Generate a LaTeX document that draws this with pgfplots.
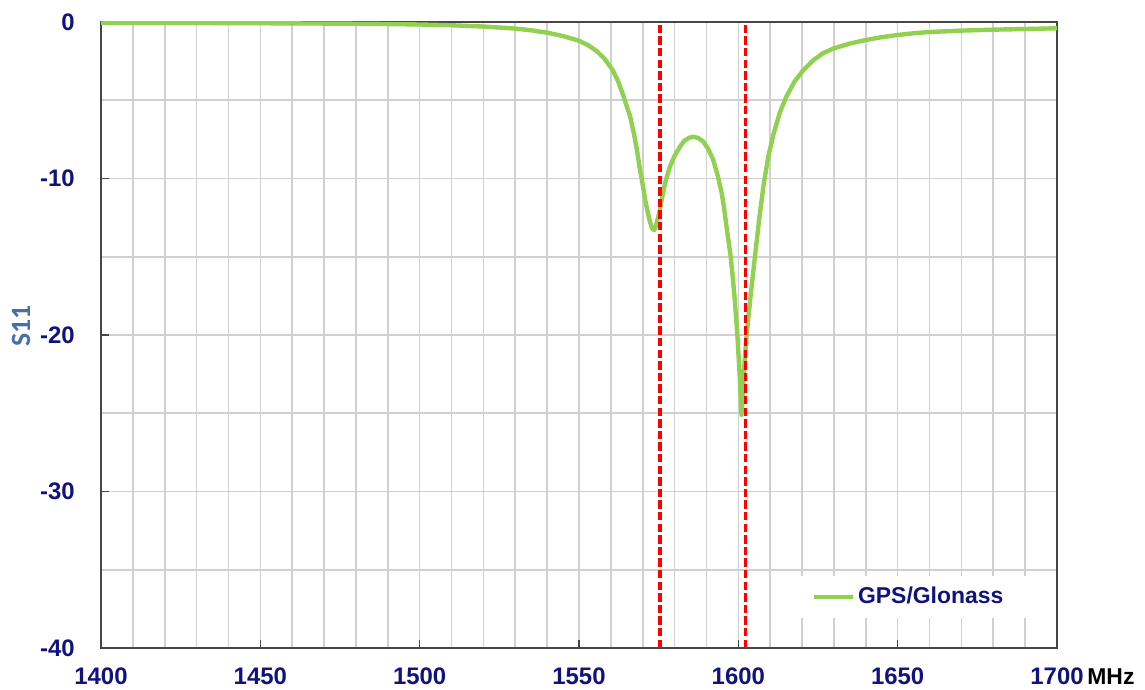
\documentclass[border=0pt]{standalone}
\usepackage{pgfplots}
\pgfplotsset{compat=1.18}
\usepackage{fontspec}
\setmainfont{Liberation Sans}
\newfontfamily\carlito{Carlito}

\definecolor{navy}{HTML}{12127E}
\definecolor{s11blue}{HTML}{4A6FA5}
\definecolor{curvegreen}{HTML}{92D050}
\definecolor{gridgray}{RGB}{208,208,208}
\definecolor{axisgray}{RGB}{70,70,70}

\begin{document}
\begin{tikzpicture}
\begin{axis}[
    scale only axis,
    width=478bp, height=313bp,
    xmin=1400, xmax=1700,
    ymin=-40, ymax=0,
    xtick={1400,1450,...,1700},
    xticklabels={1400,1450,1500,1550,1600,1650,1700},
    ytick={-40,-30,-20,-10,0},
    yticklabels={-40,-30,-20,-10,0},
    minor x tick num=4,
    minor y tick num=1,
    grid=both,
    major grid style={gridgray, line width=0.8bp},
    minor grid style={gridgray, line width=0.8bp},
    tick pos=left,
    tick align=inside,
    major tick length=4bp,
    minor tick length=0pt,
    tick style={axisgray, line width=0.8bp},
    axis line style={axisgray, line width=1bp},
    xticklabel style={font=\fontsize{12}{14}\selectfont\bfseries, text=navy, inner sep=0pt, anchor=base, yshift=-18bp},
    yticklabel style={font=\fontsize{12}{14}\selectfont\bfseries, text=navy, inner sep=0pt, anchor=east, xshift=-13bp},
    legend style={at={(0.72,0.048)}, anchor=south west, draw=none, fill=white,
        inner xsep=11bp, inner ysep=4bp,
        font=\fontsize{11.5}{13}\selectfont\bfseries, text=navy,
        nodes={inner sep=1.5bp}},
    legend image code/.code={\draw[#1] (0bp,0bp) -- (19.5bp,0bp);},
]
\addplot[curvegreen, line width=2.2bp, line join=round] coordinates {
(1400,-0.05) (1420,-0.06) (1440,-0.07) (1460,-0.09) (1480,-0.11) (1490,-0.13)
(1500,-0.16) (1510,-0.21) (1520,-0.29) (1530,-0.42) (1535,-0.53) (1540,-0.68)
(1545,-0.9) (1550,-1.2) (1553,-1.5) (1555.5,-1.85) (1558,-2.35) (1560.5,-3.05)
(1562.3,-3.8) (1563.9,-4.7) (1565,-5.4) (1566,-6.0) (1567.3,-7.2) (1568.2,-8.2)
(1569.1,-9.4) (1570,-10.4) (1570.7,-11.3) (1571.5,-12.1) (1572.3,-12.8)
(1573,-13.2) (1573.6,-13.3) (1574.2,-13.0) (1574.8,-12.5) (1575.4,-12.0)
(1575.9,-11.4) (1577,-10.3) (1578.5,-9.25) (1580,-8.55) (1581.7,-7.97)
(1583,-7.6) (1584.5,-7.4) (1585.9,-7.33) (1587.5,-7.42) (1589,-7.65)
(1590.5,-8.1) (1592.1,-8.8) (1593.5,-9.8) (1594.8,-10.95) (1595.6,-12.0)
(1596.3,-13.1) (1597,-14.1) (1597.6,-15.0) (1598.3,-16.4) (1598.9,-17.8)
(1599.7,-20.0) (1600.4,-22.5) (1601,-25.1) (1601.5,-23.4) (1602,-21.6)
(1602.6,-20.0) (1603.9,-17.4) (1605.2,-15.0) (1606.6,-12.5) (1608,-10.3)
(1609.4,-8.6) (1611,-7.2) (1613,-5.8) (1615,-4.8) (1617.5,-3.85) (1620.4,-3.07)
(1623.5,-2.45) (1626.5,-2.0) (1630,-1.68) (1635,-1.38) (1640,-1.15)
(1645,-0.97) (1650,-0.83) (1655,-0.72) (1660,-0.64) (1670,-0.55)
(1680,-0.49) (1690,-0.45) (1700,-0.40)
};
\addlegendentry{GPS/Glonass}
% GPS L1 and GLONASS markers
\addplot[red, line width=1.6bp, dash pattern=on 4.2bp off 1.6bp, forget plot] coordinates {(1575.42,-40) (1575.42,0)};
\addplot[red, line width=1.6bp, dash pattern=on 4.2bp off 1.6bp, forget plot] coordinates {(1602.3,-40) (1602.3,0)};

\coordinate (ll) at (rel axis cs:0,0);
\coordinate (ur) at (rel axis cs:1,1);
\coordinate (lr) at (rel axis cs:1,0);
\coordinate (ml) at (rel axis cs:0,0.515);
\end{axis}
\node[anchor=base west, font=\fontsize{11.5}{13}\selectfont\bfseries, inner sep=0pt]
    at ([xshift=15bp,yshift=-18bp]lr) {MHz};
\node[rotate=90, font=\fontsize{14}{16}\selectfont\carlito\bfseries, text=s11blue, inner sep=0pt]
    at ([xshift=-40bp]ml) {S11};
\pgfresetboundingbox
\path ([xshift=-50.5bp,yshift=-21bp]ll) rectangle ([xshift=44bp,yshift=11bp]ur);
\end{tikzpicture}
\end{document}
